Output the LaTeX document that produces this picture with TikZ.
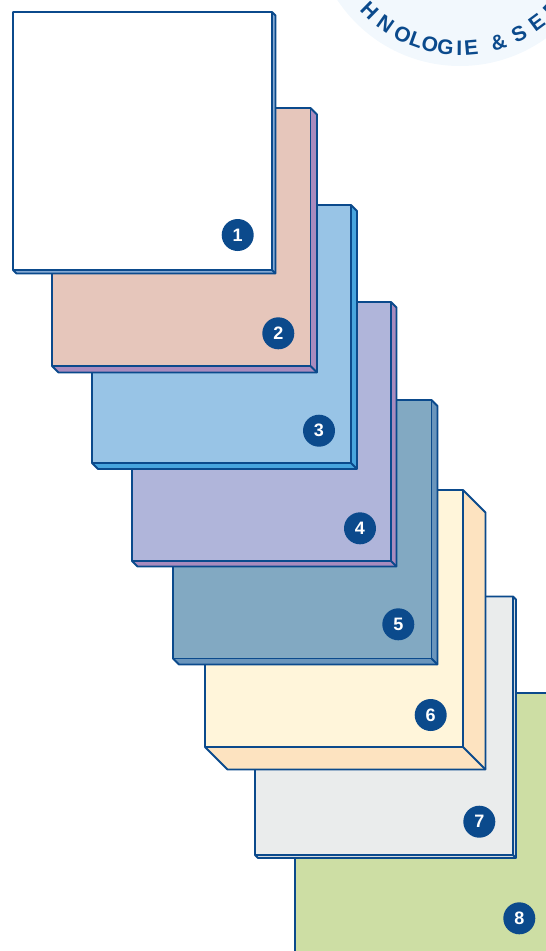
\documentclass[tikz,border=0pt]{standalone}
\usepackage{fontspec}
\setmainfont{Liberation Sans}
\definecolor{navy}{HTML}{0B4A8C}
\definecolor{badgebg}{HTML}{F2F8FD}
\definecolor{faceA}{HTML}{FFFFFF}\definecolor{sideA}{HTML}{86AAD4}
\definecolor{faceB}{HTML}{E6C6BB}\definecolor{sideB}{HTML}{A98BBE}
\definecolor{faceC}{HTML}{98C4E6}\definecolor{sideC}{HTML}{48A5DE}
\definecolor{faceD}{HTML}{B0B5DA}\definecolor{sideD}{HTML}{A98BBE}
\definecolor{faceE}{HTML}{82A9C2}\definecolor{sideE}{HTML}{6A95BC}
\definecolor{faceF}{HTML}{FFF5DA}\definecolor{sideF}{HTML}{FDE3C0}
\definecolor{faceG}{HTML}{EAECEC}\definecolor{sideG}{HTML}{D5DBE0}
\definecolor{faceH}{HTML}{CDDEA4}
\tikzset{
  edge/.style={draw=navy, line width=1.8pt, line join=round},
  num/.style={circle, fill=navy, minimum size=32pt, inner sep=0pt, text=white,
    font=\fontsize{18}{18}\selectfont\bfseries},
  badgetxt/.style={text=navy, inner sep=0pt, anchor=center,
    font=\fontsize{21}{21}\selectfont\bfseries},
}
% #1 L, #2 T, #3 R, #4 B, #5 depth, #6 face, #7 side
\newcommand\slab[7]{%
  \fill[#7] (#3,#2) -- ({#3+#5},{#2+#5}) -- ({#3+#5},{#4+#5}) -- ({#1+#5},{#4+#5}) -- (#1,#4) -- (#3,#4) -- cycle;
  \fill[#6] (#1,#2) rectangle (#3,#4);
  \draw[edge] (#1,#2) -- (#3,#2) -- ({#3+#5},{#2+#5}) -- ({#3+#5},{#4+#5}) -- ({#1+#5},{#4+#5}) -- (#1,#4) -- cycle;
  \draw[edge] (#3,#2) -- (#3,#4) -- (#1,#4);
  \draw[edge] (#3,#4) -- ({#3+#5},{#4+#5});
}
\begin{document}
\begin{tikzpicture}[x=1pt,y=-1pt]
\useasboundingbox (0,0) rectangle (546,951);
\clip (0,0) rectangle (546,951);
% badge
\fill[badgebg] (460,-81) circle (147);
\foreach \ch/\a in {H/134.5, N/125.3, O/116.4, L/109.8, O/103.4, G/96.4, I/90.3, E/85.0, \&/72.6, S/62.8, E/53.5, R/44.5}
  \node[badgetxt, rotate={90-\a}] at ({460+129*cos(\a)},{-81+129*sin(\a)}) {\ch};
% layer 8
\fill[faceH] (295,693) rectangle (560,960);
\draw[edge] (295,960) -- (295,693) -- (560,693);
\node[num] (n8) at (519.3,918.3) {8};
% layer 7
\slab{255}{596.5}{513}{855}{3}{faceG}{sideG}
\node[num] (n7) at (479.3,821.7) {7};
% layer 6
\slab{205}{490}{463}{747}{22.5}{faceF}{sideF}
\node[num] (n6) at (430.7,715) {6};
% layer 5
\slab{173}{400}{431.5}{658.5}{6}{faceE}{sideE}
\node[num] (n5) at (398.3,624.3) {5};
% layer 4
\slab{132}{302}{391}{561}{5.5}{faceD}{sideD}
\node[num] (n4) at (360,528.3) {4};
% layer 3
\slab{92}{205}{351}{463}{6}{faceC}{sideC}
\node[num] (n3) at (319,430.7) {3};
% layer 2
\slab{52}{108}{310.5}{366}{6.5}{faceB}{sideB}
\node[num] (n2) at (278.3,333.3) {2};
% layer 1
\slab{13}{12}{272}{270}{3.5}{faceA}{sideA}
\node[num] (n1) at (237.7,235) {1};
\end{tikzpicture}
\end{document}
